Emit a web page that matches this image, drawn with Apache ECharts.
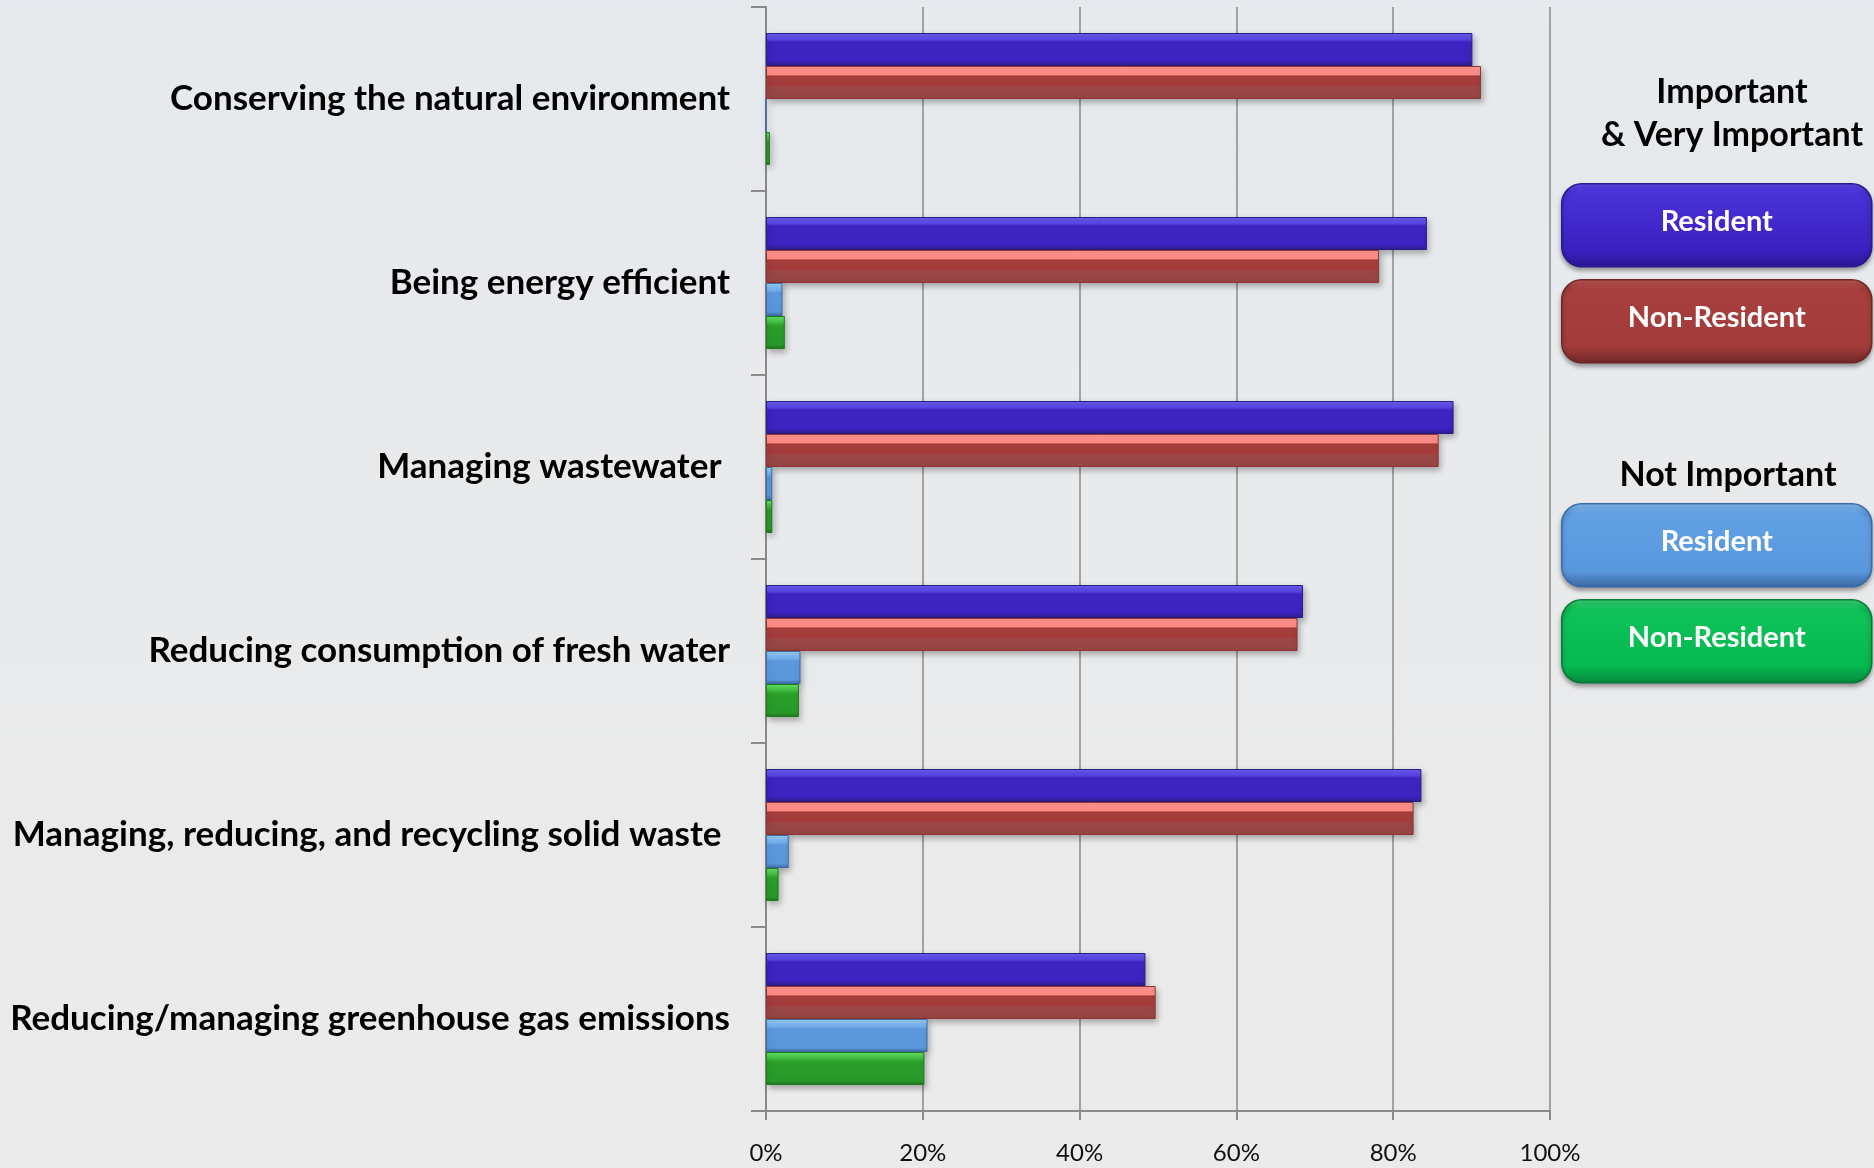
<!DOCTYPE html>
<html>
<head>
<meta charset="utf-8">
<title>Importance of environmental issues</title>
<script src="https://cdn.jsdelivr.net/npm/echarts@6/dist/echarts.min.js"></script>
<style>
  html, body { margin: 0; padding: 0; }
  #chart { width: 1874px; height: 1168px; }
</style>
</head>
<body>
<div id="chart"></div>
<script>
// categories, top to bottom
const categories = [
    'Conserving the natural environment',
    'Being energy efficient',
    'Managing wastewater ',
    'Reducing consumption of fresh water',
    'Managing, reducing, and recycling solid waste ',
    'Reducing/managing greenhouse gas emissions'
];

// percent values
const importantResident = [90.1, 84.3, 87.7, 68.5, 83.6, 48.4];
const importantNonResident = [91.2, 78.2, 85.8, 67.8, 82.6, 49.7];
const notImportantResident = [0, 2.1, 0.8, 4.4, 2.9, 20.6];
const notImportantNonResident = [0.5, 2.4, 0.8, 4.2, 1.6, 20.2];

const xTicks = [0, 20, 40, 60, 80, 100];

const labelFont = 'Lato';

// vertical gradient helper (bars are horizontal, so gradient runs top->bottom)
function vGrad(stops) {
    return new echarts.graphic.LinearGradient(0, 0, 0, 1,
        stops.map(s => ({ offset: s[0], color: s[1] })));
}

// bar fills
const blueFill = () => vGrad([[0, '#6d5ef2'], [0.2, '#5845e4'], [0.28, '#3e24c2'], [0.85, '#3c22be'], [1, '#2d1d88']]);
const redFill = () => vGrad([[0, '#ff9490'], [0.27, '#ff8d89'], [0.3, '#a43d3c'], [0.6, '#a43d3c'], [0.63, '#9a4747'], [1, '#984545']]);
const lightBlueFill = () => vGrad([[0, '#96cdfa'], [0.22, '#76b2ee'], [0.3, '#5c99de'], [0.88, '#5a96da'], [1, '#3e6ead']]);
const greenFill = () => vGrad([[0, '#66e466'], [0.2, '#40c040'], [0.3, '#2aa02a'], [0.88, '#28992a'], [1, '#1d741d']]);

// legend box fills (rounded, glossy)
const boxBlue = () => vGrad([[0, '#5f4df0'], [0.12, '#4a32d8'], [0.8, '#3a20c0'], [1, '#2a178e']]);
const boxRed = () => vGrad([[0, '#c25a58'], [0.12, '#a83f3e'], [0.8, '#a13c3b'], [1, '#6e2626']]);
const boxLightBlue = () => vGrad([[0, '#8cc2f6'], [0.12, '#62a0e4'], [0.8, '#5a98de'], [1, '#3a66a2']]);
const boxGreen = () => vGrad([[0, '#3ad878'], [0.12, '#10c25a'], [0.8, '#05b850'], [1, '#06863a']]);

function barSeries(name, data, fill, border) {
    return {
        name: name,
        type: 'bar',
        data: data,
        barWidth: 33,
        barGap: '0%',
        itemStyle: {
            color: fill(),
            borderColor: border,
            borderWidth: 1,
            shadowColor: 'rgba(0,0,0,0.28)',
            shadowBlur: 6,
            shadowOffsetY: 3,
            shadowOffsetX: 2
        },
        emphasis: { disabled: true }
    };
}

// legend boxes drawn as graphics (grouped under headers like the original)
const boxLeft = 1561;
const boxWidth = 310;
const boxHeight = 83;

function legendBox(top, text, fill, border) {
    return {
        type: 'group',
        left: boxLeft,
        top: top,
        children: [
            {
                type: 'rect',
                shape: { x: 0, y: 0, width: boxWidth, height: boxHeight, r: 20 },
                style: {
                    fill: fill(),
                    stroke: border,
                    lineWidth: 1.5,
                    shadowColor: 'rgba(0,0,0,0.35)',
                    shadowBlur: 4,
                    shadowOffsetY: 3
                }
            },
            {
                type: 'text',
                x: boxWidth / 2,
                y: boxHeight / 2 - 4,
                style: {
                    text: text,
                    fill: '#ffffff',
                    font: 'bold 29px ' + labelFont,
                    align: 'center',
                    verticalAlign: 'middle'
                }
            }
        ]
    };
}

function header(x, y, text) {
    return {
        type: 'text',
        x: x,
        y: y,
        style: {
            text: text,
            fill: '#000000',
            font: 'bold 34px ' + labelFont,
            align: 'center',
            verticalAlign: 'middle'
        }
    };
}

const chart = echarts.init(document.getElementById('chart'));

const option = {
    animation: false,
    backgroundColor: vGrad([[0, '#e6e9ed'], [0.6, '#e9eaeb'], [1, '#ebebea']]),
    grid: {
        left: 766,
        right: 324,
        top: 7,
        bottom: 57
    },
    xAxis: {
        type: 'value',
        min: 0,
        max: 100,
        interval: 20,
        axisLine: { show: true, lineStyle: { color: '#8a8a8a', width: 2 } },
        axisTick: { show: true, length: 9, lineStyle: { color: '#8a8a8a', width: 2 } },
        splitLine: { show: true, lineStyle: { color: '#8a8a8a', width: 1.5 } },
        axisLabel: {
            margin: 30,
            color: '#111',
            fontFamily: labelFont,
            fontSize: 24,
            formatter: v => xTicks.includes(v) ? v + '%' : ''
        }
    },
    yAxis: {
        type: 'category',
        inverse: true,
        data: categories,
        axisLine: { show: true, lineStyle: { color: '#8a8a8a', width: 2 } },
        axisTick: { show: true, length: 15, lineStyle: { color: '#8a8a8a', width: 2 } },
        axisLabel: {
            margin: 36,
            color: '#000',
            fontFamily: labelFont,
            fontWeight: 'bold',
            fontSize: 35
        }
    },
    series: [
        barSeries('Resident (Important)', importantResident, blueFill, '#2c1c86'),
        barSeries('Non-Resident (Important)', importantNonResident, redFill, '#8e3434'),
        barSeries('Resident (Not Important)', notImportantResident, lightBlueFill, '#3f6aa4'),
        barSeries('Non-Resident (Not Important)', notImportantNonResident, greenFill, '#1f7a1f')
    ],
    graphic: [
        header(1732, 92, 'Important'),
        header(1732, 135, '& Very Important'),
        legendBox(183, 'Resident', boxBlue, '#2a1a90'),
        legendBox(279, 'Non-Resident', boxRed, '#6e2626'),
        header(1728, 475, 'Not Important'),
        legendBox(503, 'Resident', boxLightBlue, '#3c6aa8'),
        legendBox(599, 'Non-Resident', boxGreen, '#0a7a36')
    ]
};

chart.setOption(option);
</script>
</body>
</html>
